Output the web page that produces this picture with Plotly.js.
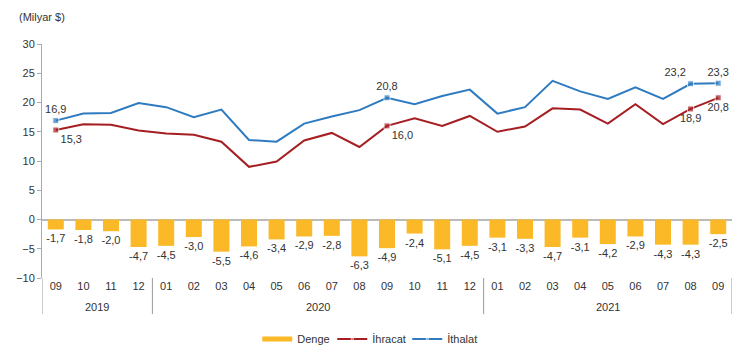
<!DOCTYPE html>
<html><head><meta charset="utf-8">
<script src="https://cdn.plot.ly/plotly-3.0.1.min.js"></script>
<style>html,body{margin:0;padding:0;background:#fff}#chart{width:735px;height:351px}</style>
</head><body><div id="chart"></div>
<script>
var months = ["09","10","11","12","01","02","03","04","05","06","07","08","09","10","11","12","01","02","03","04","05","06","07","08","09"];
var yearLabels = ["2019","2020","2021"];
var yearStart = [0,4,16];
var yearEnd = [3,15,24];
var denge = [-1.7,-1.8,-2.0,-4.7,-4.5,-3.0,-5.5,-4.6,-3.4,-2.9,-2.8,-6.3,-4.9,-2.4,-5.1,-4.5,-3.1,-3.3,-4.7,-3.1,-4.2,-2.9,-4.3,-4.3,-2.5];
var ihracat = [15.3,16.3,16.2,15.2,14.7,14.5,13.3,9.0,9.9,13.5,14.8,12.4,16.0,17.3,16.0,17.7,15.0,15.9,19.0,18.8,16.4,19.7,16.3,18.9,20.8];
var ithalat = [16.9,18.1,18.2,19.9,19.2,17.5,18.8,13.6,13.3,16.4,17.6,18.7,20.8,19.7,21.1,22.2,18.1,19.2,23.7,21.9,20.6,22.6,20.6,23.2,23.3];
var labelIdx = [0,12,23,24];
var ihrPos = ["bottom right","bottom right","bottom center","bottom center"];
var ithPos = ["top center","top center","top left","top center"];

var xs = months.map(function(_,i){return i;});
function sparse(vals, pos){
  var t=[],p=[],s=[];
  for(var i=0;i<vals.length;i++){
    var k=labelIdx.indexOf(i);
    if(k>=0){t.push(vals[i].toFixed(1).replace('.',','));p.push(pos[k]);s.push(6);}
    else{t.push('');p.push('top center');s.push(0);}
  }
  return {t:t,p:p,s:s};
}
var a=sparse(ihracat,ihrPos), b=sparse(ithalat,ithPos);
var font={family:"Liberation Sans, Arial, sans-serif",size:11,color:"#333"};
var data=[
 {type:"bar",name:"Denge",x:xs,y:denge,marker:{color:"#FBB927"},width:0.58,showlegend:false,
  texttemplate:"%{y:.1f}",textposition:"outside",constraintext:"none",textfont:font,outsidetextfont:font,cliponaxis:false,hoverinfo:"skip"},
 {type:"scatter",name:"Denge",x:[null],y:[null],mode:"lines",line:{color:"#FBB927",width:5},legendrank:1},
 {type:"scatter",name:"İhracat",x:xs,y:ihracat,mode:"lines+markers+text",line:{color:"#A51E22",width:2},legendrank:2,
  marker:{symbol:"square",size:a.s,color:"#A51E22"},text:a.t,textposition:a.p,textfont:font,cliponaxis:false},
 {type:"scatter",name:"İthalat",x:xs,y:ithalat,mode:"lines+markers+text",line:{color:"#2E7BC0",width:2},legendrank:3,
  marker:{symbol:"square",size:b.s,color:"#2E7BC0"},text:b.t,textposition:b.p,textfont:font,cliponaxis:false}
];
var shapes=[], annotations=[];
var divs=[-0.5].concat(yearEnd.map(function(e){return e+0.5;}));
divs.forEach(function(d){
  shapes.push({type:"line",xref:"x",yref:"paper",x0:d,x1:d,y0:0,y1:-0.154,line:{color:"#999",width:1}});
});
yearLabels.forEach(function(y,i){
  annotations.push({text:y,xref:"x",yref:"paper",x:(yearStart[i]+yearEnd[i])/2,y:-0.124,yanchor:"middle",showarrow:false,font:font});
});
annotations.push({text:"(Milyar $)",xref:"paper",yref:"paper",x:-0.036,y:1.114,xanchor:"left",yanchor:"middle",showarrow:false,font:font});
var layout={
 width:735,height:351,margin:{l:42,r:3,t:44,b:73},
 paper_bgcolor:"#fff",plot_bgcolor:"#fff",font:font,separators:",.",
 showlegend:true,
 legend:{orientation:"h",xref:"paper",x:0.475,xanchor:"center",yref:"container",y:0.034,yanchor:"middle",font:font,
   traceorder:"normal",itemwidth:30,entrywidth:30,entrywidthmode:"pixels"},
 xaxis:{range:[-0.5,24.5],tickvals:xs,ticktext:months,showgrid:false,showline:false,ticks:"",tickfont:font,zeroline:false,fixedrange:true},
 yaxis:{range:[-10,30],dtick:5,showgrid:false,showline:true,linecolor:"#aaa",linewidth:1,
        ticks:"outside",ticklen:4,tickcolor:"#aaa",tickfont:font,
        zeroline:true,zerolinecolor:"#bbb",zerolinewidth:2},
 shapes:shapes,annotations:annotations
};
Plotly.newPlot("chart",data,layout,{staticPlot:true,displayModeBar:false});
</script></body></html>
